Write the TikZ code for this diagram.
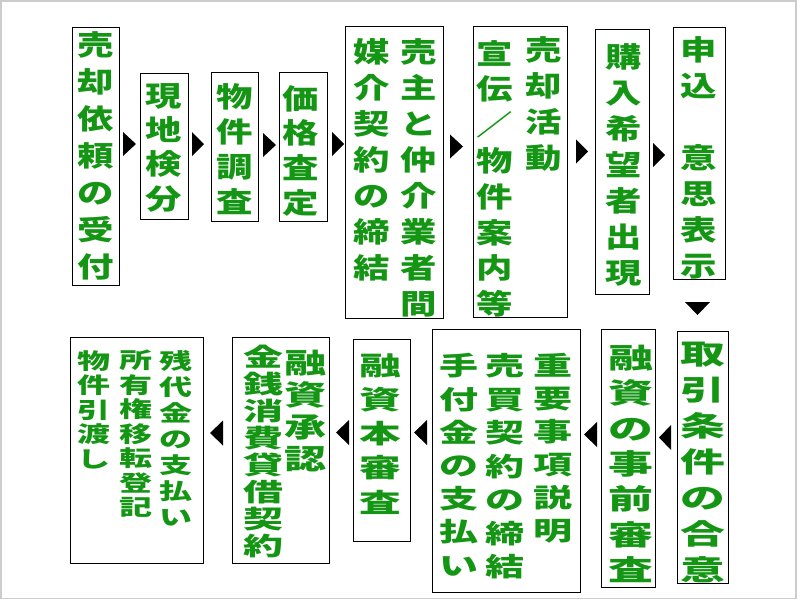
\documentclass[tikz,border=0pt]{standalone}
\usepackage{fontspec}
\usepackage{xcolor}
\usepackage{tikz}
\usetikzlibrary{fit}
\newfontfamily\jpa[FakeStretch=1.3]{Noto Sans CJK JP}
\newfontfamily\jpb[FakeStretch=1.5]{Noto Sans CJK JP}
\newfontfamily\jpc[FakeStretch=1.6]{Noto Sans CJK JP}
\definecolor{flowgreen}{RGB}{20,150,20}
\lineskiplimit=-100pt

\begin{document}
\begin{tikzpicture}[x=1pt,y=-1pt,
	box/.style={draw,line width=1pt,inner sep=0pt},
	col/.style={text=flowgreen,align=center,inner sep=0pt,anchor=north},
	fa/.style 2 args={col,font=\jpa\bfseries\fontsize{#1}{#2}\selectfont},
	fb/.style 2 args={col,font=\jpb\bfseries\fontsize{#1}{#2}\selectfont},
	fc/.style 2 args={col,font=\jpc\bfseries\fontsize{#1}{#2}\selectfont}]
	\useasboundingbox (0,0) rectangle (800,600);
	\draw[black!20,line width=1.5pt] (1,1) rectangle (796,598.5);
	% upper row
	\node[box,fit={(72,27) (119,285)}] (b1) {};
	\node[box,fit={(140,73) (188,219)}] (b2) {};
	\node[box,fit={(211,72) (258,221)}] (b3) {};
	\node[box,fit={(279,72) (327,221)}] (b4) {};
	\node[box,fit={(345,26) (443,318)}] (b5) {};
	\node[box,fit={(473,26) (567,317)}] (b6) {};
	\node[box,fit={(595,29) (649,294)}] (b7) {};
	\node[box,fit={(673,27) (725,279)}] (b8) {};
	\node[fa={28}{37}] (t1) at (96,31.7) {売\\却\\依\\頼\\の\\受\\付};
	\node[fa={28}{34.2}] (t2) at (164,83.3) {現\\地\\検\\分};
	\node[fa={28}{35}] (t3) at (235,83.3) {物\\件\\調\\査};
	\node[fa={28}{34.7}] (t4) at (301,85) {価\\格\\査\\定};
	\node[fa={28}{36}] (t5a) at (418.8,38.3) {売\\主\\と\\仲\\介\\業\\者\\間};
	\node[fa={28}{36}] (t5b) at (371.3,38.3) {媒\\介\\契\\約\\の\\締\\結};
	\node[fa={28}{36}] (t6a) at (544,36.7) {売\\却\\活\\動};
	\node[fa={28}{35.8}] (t6b) at (494.7,40) {宣\\伝\\／\\物\\件\\案\\内\\等};
	\node[fa={28}{36}] (t7) at (623.3,43.3) {購\\入\\希\\望\\者\\出\\現};
	\node[fa={28}{36}] (t8) at (699,36.7) {申\\込\\　\\意\\思\\表\\示};
	% lower row
	\node[box,fit={(677,331) (728,583)}] (b9) {};
	\node[box,fit={(601,329) (655,587)}] (b10) {};
	\node[box,fit={(432,329) (580,592)}] (b11) {};
	\node[box,fit={(353,339) (410,541)}] (b12) {};
	\node[box,fit={(232,337) (329,563)}] (b13) {};
	\node[box,fit={(70,337) (203,563)}] (b14) {};
	\node[fc={28}{36}] (t9) at (702.7,341.7) {取\\引\\条\\件\\の\\合\\意};
	\node[fc={28}{35.3}] (t10) at (631,345) {融\\資\\の\\事\\前\\審\\査};
	\node[fb={26}{33}] (t11a) at (552.8,353.3) {重\\要\\事\\項\\説\\明};
	\node[fb={26}{33.5}] (t11b) at (505,353.3) {売\\買\\契\\約\\の\\締\\結};
	\node[fb={26}{33.2}] (t11c) at (459.2,353.3) {手\\付\\金\\の\\支\\払\\い};
	\node[fc={26}{34.2}] (t12) at (380,353.3) {融\\資\\本\\審\\査};
	\node[fb={28}{32}] (t13a) at (305,350) {融\\資\\承\\認};
	\node[fc={25}{27}] (t13b) at (263.3,345) {金\\銭\\消\\費\\貸\\借\\契\\約};
	\node[fb={22}{26}] (t14a) at (175.8,350) {残\\代\\金\\の\\支\\払\\い};
	\node[fb={22}{24.5}] (t14b) at (135.5,350) {所\\有\\権\\移\\転\\登\\記};
	\node[fb={22}{24.5}] (t14c) at (94.2,350) {物\\件\\引\\渡\\し};
	% arrow heads
	\foreach \a/\b/\y in {123/136/144, 192/204/144, 263/276/145, 332/344/144,
		450/463/146.5, 576/588/151.5, 653/665/155}
		\fill (\a,\y-12) -- (\b,\y) -- (\a,\y+12) -- cycle;
	\fill (685,302) -- (710,302) -- (697.5,315) -- cycle;
	\foreach \a/\b/\y in {659/671/437.5, 584/597/434.5, 414/427/432.5,
		336/349/432.5, 210/223/433}
		\fill (\b,\y-12.5) -- (\a,\y) -- (\b,\y+12.5) -- cycle;
\end{tikzpicture}
\end{document}
